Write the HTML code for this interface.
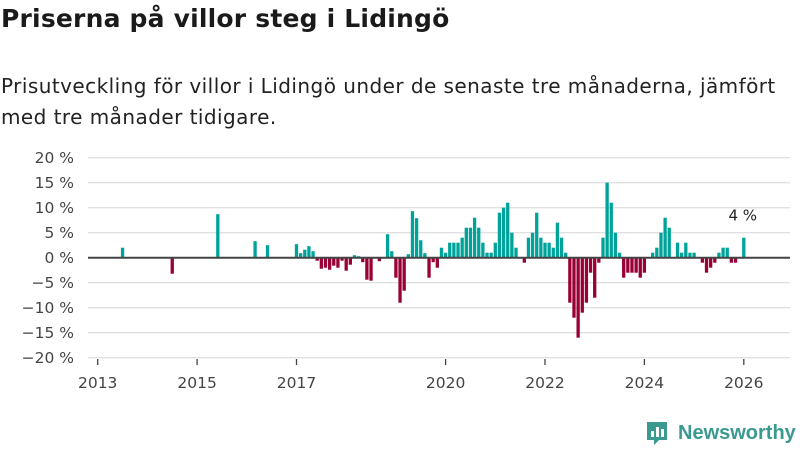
<!DOCTYPE html>
<html><head><meta charset="utf-8"><style>
body{margin:0;width:800px;height:450px;background:#fff;font-family:"Liberation Sans",sans-serif;overflow:hidden;position:relative}
#title{position:absolute;left:1px;top:4px;font-family:"DejaVu Sans",sans-serif;font-size:25px;font-weight:bold;color:#1a1a1a;white-space:nowrap;letter-spacing:0.2px}
#sub{position:absolute;left:1px;top:71px;font-family:"DejaVu Sans",sans-serif;font-size:20px;letter-spacing:0.45px;line-height:31px;color:#222;width:799px}
#logo{position:absolute;left:645px;top:420px;display:flex;align-items:center}
</style></head><body>
<div id="title">Priserna på villor steg i Lidingö</div>
<div id="sub">Prisutveckling för villor i Lidingö under de senaste tre månaderna, jämfört med tre månader tidigare.</div>
<svg id="chart" width="800" height="450" style="position:absolute;left:0;top:0"></svg>
<div id="logo">
<svg width="24" height="26"><path d="M2 2h20v18h-8l-5 5v-5H2z" fill="#3a9a8f"/><rect x="6" y="11" width="3" height="6" fill="#fff"/><rect x="11" y="7" width="3" height="10" fill="#fff"/><rect x="16" y="9" width="3" height="8" fill="#fff"/></svg>
<span style="margin-left:9px;font-size:20px;font-weight:bold;color:#3a9a8f">Newsworthy</span>
</div>
<script>
const startYear = 2013;
const values = [
 null,null,null,null,null,null,2,null,null,null,null,null,
 null,null,null,null,null,null,-3.2,null,null,null,null,null,
 null,null,null,null,null,8.7,null,null,null,null,null,null,
 null,null,3.3,null,null,2.5,null,null,null,null,null,null,
 2.7,0.9,1.6,2.3,1.3,-0.6,-2.2,-2,-2.4,-1.6,-2,-0.6,
 -2.6,-1.4,0.5,0.3,-0.9,-4.4,-4.6,null,-0.7,null,4.7,1.3,
 -4,-9,-6.6,0.7,9.3,7.9,3.5,0.9,-4,-0.9,-2,2,
 1,3,3,3,4,6,6,8,6,3,1,1,
 3,9,10,11,5,2,null,-1,4,5,9,4,
 3,3,2,7,4,1,-9,-12,-16,-11,-9,-3,
 -8,-1,4,15,11,5,1,-4,-3,-3,-3,-4,
 -3,null,1,2,5,8,6,null,3,1,3,1,
 1,null,-1,-3,-2,-1,1,2,2,-1,-1,null,
 4
];
const yTicks = [20,15,10,5,0,-5,-10,-15,-20];
const xTickYears = [2013,2015,2017,2020,2022,2024,2026];
const lastLabel = "4 %";

const NS="http://www.w3.org/2000/svg";
const svg=document.getElementById('chart');
const x=m=>97.7+m*(49.7/12);
const y=v=>257.7-v*5;
const FONT='DejaVu Sans, sans-serif';
function el(t,a){const e=document.createElementNS(NS,t);for(const k in a)e.setAttribute(k,a[k]);svg.appendChild(e);return e;}
yTicks.forEach(v=>{
 const g=el('line',{x1:88,x2:790,y1:y(v),y2:y(v),stroke:'#e0e0e0','stroke-width':1.3});
 
 
 const t=el('text',{x:74,y:y(v)+5.5,'text-anchor':'end','font-size':15.5,fill:'#444','font-family':FONT});
 t.textContent=(v<0?'−'+(-v):v)+' %';
 
 
});
xTickYears.forEach(yr=>{
 const xx=x((yr-startYear)*12);
 const k=el('line',{x1:xx,x2:xx,y1:359,y2:365,stroke:'#444','stroke-width':1.3});
 
 
 const t=el('text',{x:xx,y:388,'text-anchor':'middle','font-size':15.5,fill:'#444','font-family':FONT});
 t.textContent=yr;
 
 
});
values.forEach((v,i)=>{
 if(v===null)return;
 const cx=x(i);
 const r=el('rect',{x:cx-1.65,width:3.3,y:Math.min(y(v),y(0)),height:Math.abs(y(v)-y(0)),fill:v>=0?'#00a39a':'#990036'});
 
 
});
const z=el('line',{x1:88,x2:790,y1:y(0),y2:y(0),stroke:'#444','stroke-width':2});


const li=values.length-1;
const lt=el('text',{x:x(li)-1,y:y(values[li])-17,'text-anchor':'middle','font-size':15,fill:'#222','font-family':FONT});
lt.textContent=lastLabel;


</script>
</body></html>
